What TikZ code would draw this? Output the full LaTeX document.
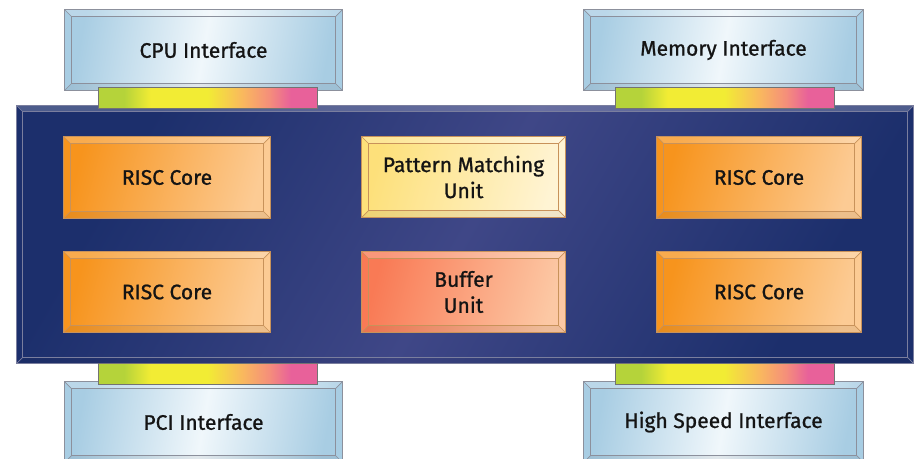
\documentclass[tikz,border=0pt]{standalone}
\usepackage{fontspec}
\setmainfont{Fira Sans}[FakeBold=1.0,UprightFeatures={FakeBold=1.0}]
\definecolor{ifEdge}{HTML}{A8CDE3}
\definecolor{ifMid}{HTML}{F0F7FB}
\definecolor{navyA}{HTML}{1C2F6C}
\definecolor{navyB}{HTML}{3F4787}
\definecolor{orA}{HTML}{F7941D}
\definecolor{orB}{HTML}{FCCB94}
\definecolor{yeA}{HTML}{FDE07A}
\definecolor{yeB}{HTML}{FFF4D4}
\definecolor{saA}{HTML}{F97A55}
\definecolor{saB}{HTML}{FCC8A4}
\definecolor{bevGray}{HTML}{8C909C}
\definecolor{bevOr}{HTML}{C8925A}
\definecolor{bevNavy}{HTML}{7A7E9E}
\definecolor{bG}{HTML}{B5D33A}
\definecolor{bY}{HTML}{F2EC34}
\definecolor{bO}{HTML}{F9B85E}
\definecolor{bS}{HTML}{F58F7A}
\definecolor{bP}{HTML}{E8619A}
\definecolor{txt}{HTML}{141414}
\pgfdeclarehorizontalshading{rainbow}{100bp}{color(0bp)=(bG); color(25bp)=(bG); color(31bp)=(bG); color(37bp)=(bY); color(50bp)=(bY); color(58bp)=(bO); color(64bp)=(bS); color(69bp)=(bP); color(75bp)=(bP); color(100bp)=(bP)}
\newcommand\bev[3]{%
  \fill[white,opacity=.22] (#1.north west) -- (#1.north east) -- ([shift={(-#2,-#2)}]#1.north east) -- ([shift={(#2,-#2)}]#1.north west) -- cycle;
  \fill[black,opacity=.06] (#1.south west) -- (#1.south east) -- ([shift={(-#2,#2)}]#1.south east) -- ([shift={(#2,#2)}]#1.south west) -- cycle;
  \draw[#3, line width=0.9pt] (#1.north west) rectangle (#1.south east);
  \draw[#3, line width=0.9pt] ([shift={(#2,-#2)}]#1.north west) rectangle ([shift={(-#2,#2)}]#1.south east);
  \draw[#3, line width=0.7pt] (#1.north west) -- ++(#2,-#2) (#1.north east) -- ++(-#2,-#2)
     (#1.south west) -- ++(#2,#2) (#1.south east) -- ++(-#2,#2);
}
\tikzset{
  base/.style={rectangle, inner sep=0pt, text=txt, font=\fontsize{21}{26}\selectfont, align=center},
  iface/.style={base, left color=ifEdge, right color=ifEdge, middle color=ifMid, shading angle=80},
  mainbox/.style={rectangle, inner sep=0pt, left color=navyA, right color=navyA, middle color=navyB, shading angle=60},
  core/.style={base, left color=orA, right color=orB, shading angle=75},
  pmu/.style={base, left color=yeA, right color=yeB, shading angle=75},
  buf/.style={base, left color=saA, right color=saB, shading angle=75},
  bar/.style={rectangle, inner sep=0pt, shading=rainbow, draw=black!55, line width=0.5pt, minimum width=219pt, minimum height=21pt},
}
\begin{document}
\begin{tikzpicture}[x=1pt,y=-1pt]
\useasboundingbox[fill=white] (0,0) rectangle (917,458);
% main chip
\node[mainbox, minimum width=896pt, minimum height=257pt] (chip) at (465,234.5) {};
\bev{chip}{6pt}{bevNavy}
% interfaces
\node[iface, minimum width=277pt, minimum height=80pt] (cpu) at (203.5,50) {CPU Interface};
\bev{cpu}{7pt}{bevGray}
\node[iface, minimum width=279pt, minimum height=80pt] (mem) at (723.5,50) {Memory Interface};
\bev{mem}{7pt}{bevGray}
\node[iface, minimum width=277pt, minimum height=80pt] (pci) at (203.5,422) {PCI Interface};
\bev{pci}{7pt}{bevGray}
\node[iface, minimum width=279pt, minimum height=80pt] (hsi) at (723.5,422) {High Speed Interface};
\bev{hsi}{7pt}{bevGray}
% bars
\node[bar] (bar1) at (207.5,97.5) {};
\node[bar] (bar2) at (724.5,97.5) {};
\node[bar] (bar3) at (207.5,373.5) {};
\node[bar] (bar4) at (724.5,373.5) {};
% cores
\node[core, minimum width=206pt, minimum height=81pt] (r1) at (167,177.5) {RISC Core};
\bev{r1}{7pt}{bevOr}
\node[core, minimum width=206pt, minimum height=80pt] (r2) at (167,292) {RISC Core};
\bev{r2}{7pt}{bevOr}
\node[core, minimum width=204pt, minimum height=81pt] (r3) at (759,177.5) {RISC Core};
\bev{r3}{7pt}{bevOr}
\node[core, minimum width=204pt, minimum height=80pt] (r4) at (759,292) {RISC Core};
\bev{r4}{7pt}{bevOr}
\node[pmu, minimum width=203pt, minimum height=80pt] (pm) at (463.5,177) {Pattern Matching\\Unit};
\bev{pm}{7pt}{bevOr}
\node[buf, minimum width=203pt, minimum height=80pt] (bu) at (463.5,292) {Buffer\\Unit};
\bev{bu}{7pt}{bevOr}
\end{tikzpicture}
\end{document}
